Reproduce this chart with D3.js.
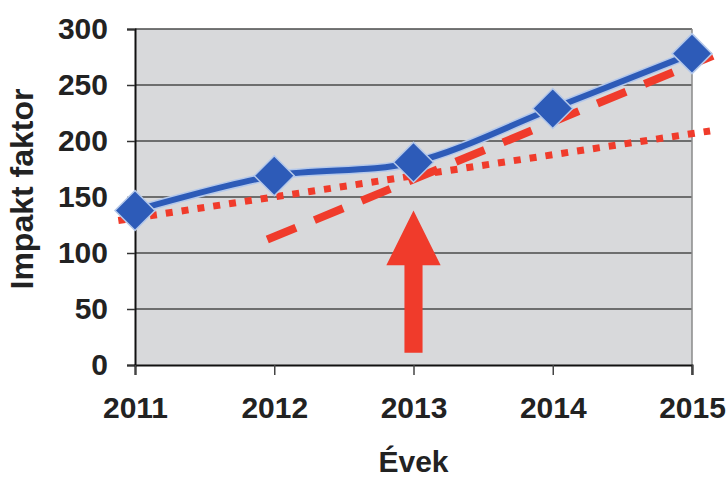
<!DOCTYPE html>
<html>
<head>
<meta charset="utf-8">
<script src="https://cdn.jsdelivr.net/npm/d3@7"></script>
<style>
  body { margin: 0; background: #fff; }
  text { font-family: "Liberation Sans", Arial, sans-serif; font-weight: bold; fill: #222; }
</style>
</head>
<body>
<div id="chart"></div>
<script>
// data
const years = [2011, 2012, 2013, 2014, 2015];
const impakt = [138, 169, 181, 229, 278];
const yTicks = [0, 50, 100, 150, 200, 250, 300];
// trend lines (start / end), red
const dottedTrend = [[2010.88, 129], [2015.13, 209]];
const dashedTrend = [[2011.95, 112], [2015.15, 276]];
// arrow under 2013: [year, bottom, head base, tip]
const arrow = { year: 2013, bottom: 11, headBase: 89, tip: 138 };

const w = 727, h = 479;
const plotL = 135, plotR = 692, plotT = 29, plotB = 365;

const svg = d3.select("#chart").append("svg")
  .attr("width", w).attr("height", h);

const x = d3.scaleLinear().domain([2011, 2015]).range([plotL, plotR]);
const y = d3.scaleLinear().domain([0, 300]).range([plotB, plotT]);

// plot background
svg.append("rect")
   .attr("x", plotL).attr("y", plotT)
   .attr("width", plotR - plotL).attr("height", plotB - plotT)
   .attr("fill", "#d8d9db");

// gridlines
svg.append("g").selectAll("line")
   .data(yTicks.filter(d => d > 0))
   .enter().append("line")
   .attr("x1", plotL).attr("x2", plotR)
   .attr("y1", d => y(d)).attr("y2", d => y(d))
   .attr("stroke", "#4a4a4a").attr("stroke-width", 1.6);

// right border
svg.append("line")
   .attr("x1", plotR).attr("x2", plotR).attr("y1", plotT).attr("y2", plotB + 10)
   .attr("stroke", "#8a8a8a").attr("stroke-width", 1.5);

// axes
const yAxis = d3.axisLeft(y).tickValues(yTicks).tickSize(8).tickPadding(19);
const gy = svg.append("g").attr("transform", "translate(" + plotL + ",0)").call(yAxis);
gy.select(".domain").attr("stroke", "#111").attr("stroke-width", 2);
gy.selectAll(".tick line").attr("stroke", "#333").attr("stroke-width", 1.5);
gy.selectAll("text").attr("font-size", 30).attr("fill", "#222");

const xAxis = d3.axisBottom(x).tickValues(years).tickFormat(d3.format("d")).tickSize(10).tickPadding(22);
const gx = svg.append("g").attr("transform", "translate(0," + plotB + ")").call(xAxis);
gx.select(".domain").attr("stroke", "#111").attr("stroke-width", 2);
gx.selectAll(".tick line").attr("stroke", "#444").attr("stroke-width", 1.5);
gx.selectAll("text").attr("font-size", 30).attr("fill", "#222");

// axis titles
svg.append("text")
   .attr("transform", "translate(33,189) rotate(-90)")
   .attr("text-anchor", "middle")
   .attr("font-size", 32)
   .text("Impakt faktor");

svg.append("text")
   .attr("x", (plotL + plotR) / 2).attr("y", 472)
   .attr("text-anchor", "middle")
   .attr("font-size", 30)
   .text("Évek");

// arrow
const ax = x(arrow.year), hw = x(2011.195) - x(2011), sw = x(2011.065) - x(2011);
svg.append("path")
   .attr("d", "M" + (ax - sw) + "," + y(arrow.bottom) +
              "L" + (ax - sw) + "," + y(arrow.headBase) +
              "L" + (ax - hw) + "," + y(arrow.headBase) +
              "L" + ax + "," + y(arrow.tip) +
              "L" + (ax + hw) + "," + y(arrow.headBase) +
              "L" + (ax + sw) + "," + y(arrow.headBase) +
              "L" + (ax + sw) + "," + y(arrow.bottom) + "Z")
   .attr("fill", "#f03b2b");

const line = d3.line().x(d => x(d[0])).y(d => y(d[1]));

// dotted trend
svg.append("path")
   .attr("d", line(dottedTrend))
   .attr("fill", "none").attr("stroke", "#f03b2b")
   .attr("stroke-width", 7).attr("stroke-dasharray", "7,9");

// dashed trend
svg.append("path")
   .attr("d", line(dashedTrend))
   .attr("fill", "none").attr("stroke", "#f03b2b")
   .attr("stroke-width", 8).attr("stroke-dasharray", "31,20");

// blue series, smoothed
const pts = years.map((yr, i) => [yr, impakt[i]]);
const smooth = d3.line().x(d => x(d[0])).y(d => y(d[1])).curve(d3.curveCatmullRom.alpha(0));
svg.append("path")
   .attr("d", smooth(pts))
   .attr("fill", "none").attr("stroke", "#b4c8ea").attr("stroke-width", 9);
svg.append("path")
   .attr("d", smooth(pts))
   .attr("fill", "none").attr("stroke", "#2d5bb8").attr("stroke-width", 6);

svg.append("g").selectAll("path")
   .data(pts)
   .enter().append("path")
   .attr("transform", d => "translate(" + x(d[0]) + "," + y(d[1]) + ")")
   .attr("d", "M0,-20L20,0L0,20L-20,0Z")
   .attr("fill", "#2d5bb8")
   .attr("stroke", "#b4c8ea").attr("stroke-width", 1.5);
</script>
</body>
</html>
